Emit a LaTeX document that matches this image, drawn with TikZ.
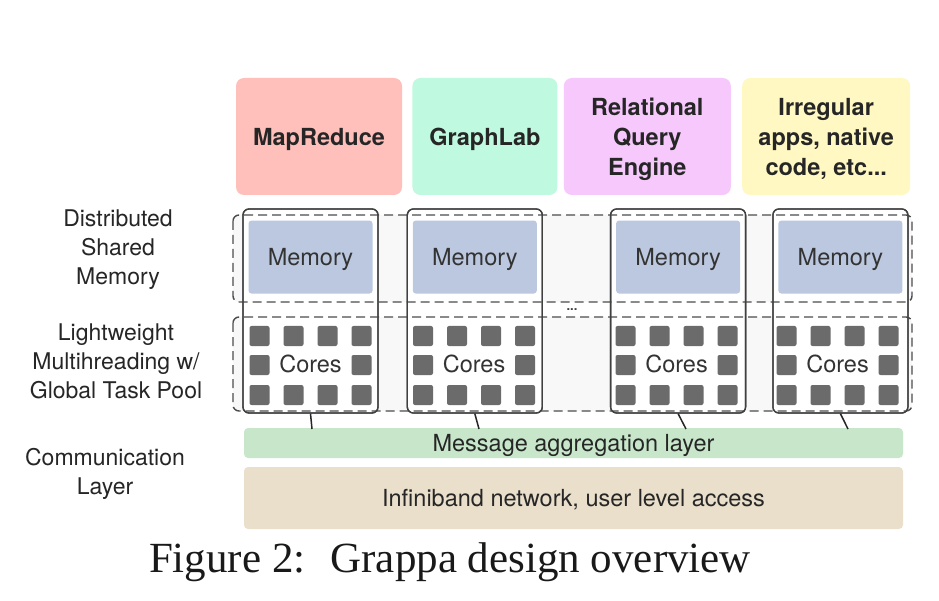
\documentclass[tikz,border=0pt]{standalone}
\usepackage{fontspec}
\setmainfont{Liberation Serif}
\setsansfont{TeX Gyre Heros}
\usetikzlibrary{positioning}

\definecolor{mrpink}{HTML}{FFBFBA}
\definecolor{glgreen}{HTML}{BEF9E0}
\definecolor{rqpink}{HTML}{F6C8FB}
\definecolor{iayellow}{HTML}{FFF8C2}
\definecolor{memblue}{HTML}{BBC8DF}
\definecolor{coregray}{HTML}{6B6B6B}
\definecolor{msggreen}{HTML}{C8E7CA}
\definecolor{ibtan}{HTML}{E9DFCB}
\definecolor{regiongray}{HTML}{F8F8F8}

\begin{document}
\begin{tikzpicture}[x=1pt,y=-1pt,
  app node/.style={rectangle,rounded corners=8pt,align=center,inner sep=2pt,
  font=\sffamily\bfseries\fontsize{23.5}{30}\selectfont,text=black!85,
  minimum height=117pt,text depth=0pt},
  side label/.style={align=center,text=black!85,
  font=\sffamily\fontsize{23}{29}\selectfont},
  machine node/.style={rectangle,rounded corners=6pt,draw=black!75,
  line width=1.3pt,minimum width=135pt,minimum height=204pt,inner sep=0pt},
  memory node/.style={rectangle,rounded corners=3pt,fill=memblue,
  minimum width=124pt,minimum height=73pt,inner sep=0pt,text depth=0pt,
  font=\sffamily\fontsize{23.5}{26}\selectfont,text=black!80},
  core node/.style={rectangle,rounded corners=2pt,fill=coregray,
  minimum size=20pt,inner sep=0pt},
  region frame/.style={draw=black!70,line width=1.4pt,rounded corners=6pt,
  dash pattern=on 9pt off 5pt},
  comm layer/.style={rectangle,rounded corners=4pt,minimum width=659pt,
  inner sep=0pt,text depth=0pt,
  font=\sffamily\fontsize{23.5}{26}\selectfont,text=black!85}]

  \useasboundingbox (0,0) rectangle (939,601);

  %Frameworks on top
  \node[app node,fill=mrpink,minimum width=166pt] (MR) at (319,136.5) {MapReduce};
  \node[app node,fill=glgreen,minimum width=145pt] (GL) [right=10pt of MR] {GraphLab};
  \node[app node,fill=rqpink,minimum width=167pt] (RQ) [right=6pt of GL] {Relational\\Query\\Engine};
  \node[app node,fill=iayellow,minimum width=168pt] (IA) [right=11pt of RQ] {Irregular\\apps, native\\code, etc...};

  %Layer names on the left
  \node[side label] (DSM) at (118,250) {Distributed\\Shared\\Memory};
  \node[side label] (LMT) at (116,361) {Lightweight\\Multihreading w/\\Global Task Pool};
  \node[side label] (COM) at (105,474) {Communication\\Layer};

  %Dashed regions, filled first
  \fill[regiongray,rounded corners=6pt] (233,215) rectangle (912,302);
  \fill[regiongray,rounded corners=6pt] (233,317) rectangle (912,411);

  %Machines
  \node[machine node,fill=white] (colA) at (310.5,311) {};
  \node[machine node,fill=white] (colB) [right=28pt of colA] {};
  \node[machine node,fill=white] (colC) [right=67pt of colB] {};
  \node[machine node,fill=white] (colD) [right=26pt of colC] {};

  \draw[region frame] (233,215) rectangle (912,302);
  \draw[region frame] (233,317) rectangle (912,411);

  \node (dots) [anchor=base,font=\sffamily\bfseries\fontsize{13}{13}\selectfont,
  text=black!75] at (572,311) {...};

  %Memory and cores of each machine
  \foreach \n/\cx in {A/310.5,B/474,C/676.5,D/837.5}{
    \node[memory node] (mem\n) [below=12pt of col\n.north] {Memory};
    \foreach \dx [count=\i] in {-51,-17,17,51}{
      \node[core node] (core\n-t\i) at (\cx+\dx,336) {};
      \node[core node] (core\n-b\i) at (\cx+\dx,395) {};
    }
    \node[core node] (core\n-l) at (\cx-51,365) {};
    \node[core node] (core\n-r) at (\cx+51,365) {};
    \node[font=\sffamily\fontsize{23.5}{26}\selectfont,text=black!80,text depth=0pt]
      (cores\n) at (\cx,364) {Cores};
    \node[machine node] (frame\n) at (col\n) {};
  }

  %Communication layers
  \node[comm layer,fill=msggreen,minimum height=30pt] (MSG) at (573.5,443) {Message aggregation layer};
  \node[comm layer,fill=ibtan,minimum height=62pt] (IB) at (573.5,498) {Infiniband network, user level access};

  %Machines hooked onto the message layer
  \coordinate (mA) at (312,429);
  \coordinate (mB) at (479,429);
  \coordinate (mC) at (686,429);
  \coordinate (mD) at (848,429);
  \foreach \n in {A,B,C,D}
    \draw[black!85,line width=1.5pt] (col\n.south) -- (m\n);

  \node (CAP) [anchor=base,font=\rmfamily\fontsize{43}{46}\selectfont,
  text=black!90] at (450,572) {Figure 2: \ Grappa design overview};

\end{tikzpicture}
\end{document}
